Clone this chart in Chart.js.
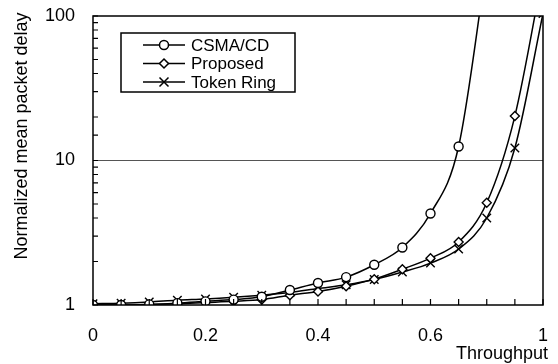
<!DOCTYPE html>
<html>
<head>
<meta charset="utf-8">
<script src="https://cdn.jsdelivr.net/npm/chart.js@4/dist/chart.umd.min.js"></script>
<style>
  html, body { margin: 0; padding: 0; background: #fff; }
  #wrap { width: 558px; height: 364px; }
</style>
</head>
<body>
<div id="wrap"><canvas id="delay-chart" width="558" height="364"></canvas></div>
<script>
// throughput steps (x) and normalized delay per protocol (y, log scale)
const throughput = [0, 0.05, 0.1, 0.15, 0.2, 0.25, 0.3, 0.35, 0.4, 0.45, 0.5, 0.55, 0.6, 0.65, 0.7, 0.75, 0.8];
const csmaDelay = [1.0, 1.0, 1.01, 1.03, 1.06, 1.09, 1.14, 1.27, 1.42, 1.56, 1.9, 2.5, 4.3, 12.5, 230];
const proposedDelay = [1.0, 1.0, 1.01, 1.02, 1.04, 1.06, 1.09, 1.17, 1.24, 1.35, 1.51, 1.77, 2.11, 2.73, 5.1, 20.3, 200];
const tokenDelay = [1.02, 1.03, 1.05, 1.08, 1.1, 1.13, 1.17, 1.22, 1.3, 1.38, 1.5, 1.69, 1.95, 2.44, 4.0, 12.2, 104];

const seriesNames = ['CSMA/CD', 'Proposed', 'Token Ring'];
const xTickLabels = ['0', '0.2', '0.4', '0.6', '1'];
const yTickValues = [1, 10, 100];

const FONT = "'Liberation Sans', Arial, sans-serif";

function toPoints(ys) {
    return ys.map((y, i) => ({ x: throughput[i], y: y }));
}

function drawMarker(ctx, style, r, x, y) {
    ctx.beginPath();
    if (style === 'circle') {
        ctx.arc(x, y, r, 0, Math.PI * 2);
        ctx.fill();
        ctx.stroke();
    } else if (style === 'rectRot') {
        ctx.moveTo(x, y - r);
        ctx.lineTo(x + r, y);
        ctx.lineTo(x, y + r);
        ctx.lineTo(x - r, y);
        ctx.closePath();
        ctx.fill();
        ctx.stroke();
    } else {
        const d = r * 0.75;
        ctx.moveTo(x - d, y - d);
        ctx.lineTo(x + d, y + d);
        ctx.moveTo(x + d, y - d);
        ctx.lineTo(x - d, y + d);
        ctx.stroke();
    }
}

// box, inward minor ticks, legend and axis titles
const decorations = {
    id: 'decorations',
    afterDatasetsDraw(chart) {
        const ctx = chart.ctx;
        const area = chart.chartArea;
        const xs = chart.scales.x;
        const ys = chart.scales.y;
        ctx.save();
        ctx.strokeStyle = '#000';
        ctx.lineWidth = 1.5;
        ctx.strokeRect(area.left, area.top, area.right - area.left, area.bottom - area.top);

        ctx.lineWidth = 1.2;
        ctx.beginPath();
        ys.ticks.forEach(t => {
            const py = ys.getPixelForValue(t.value);
            ctx.moveTo(area.left, py);
            ctx.lineTo(area.left + 5, py);
        });
        xs.ticks.forEach(t => {
            const px = xs.getPixelForValue(t.value);
            ctx.moveTo(px, area.bottom);
            ctx.lineTo(px, area.bottom - 6);
        });
        ctx.stroke();

        // legend
        const lx = area.left + 28, ly = area.top + 17, lw = 174, lh = 59;
        ctx.fillStyle = '#fff';
        ctx.fillRect(lx, ly, lw, lh);
        ctx.lineWidth = 1.5;
        ctx.strokeRect(lx, ly, lw, lh);
        chart.data.datasets.forEach((ds, i) => {
            const ry = ly + 12 + i * 18.5;
            ctx.strokeStyle = '#000';
            ctx.lineWidth = 1.5;
            ctx.beginPath();
            ctx.moveTo(lx + 22, ry);
            ctx.lineTo(lx + 64, ry);
            ctx.stroke();
            ctx.fillStyle = '#fff';
            drawMarker(ctx, ds.pointStyle, ds.pointRadius, lx + 43, ry);
            ctx.fillStyle = '#000';
            ctx.font = '17px ' + FONT;
            ctx.textAlign = 'left';
            ctx.textBaseline = 'middle';
            ctx.fillText(ds.label, lx + 70, ry + 1);
        });

        // axis titles
        ctx.fillStyle = '#000';
        ctx.font = '18px ' + FONT;
        ctx.textAlign = 'right';
        ctx.textBaseline = 'middle';
        ctx.fillText('Throughput', area.right + 5, 354);
        ctx.translate(22, 136);
        ctx.rotate(-Math.PI / 2);
        ctx.textAlign = 'center';
        ctx.fillText('Normalized mean packet delay', 0, 0);
        ctx.restore();
    }
};

const pointStyles = ['circle', 'rectRot', 'crossRot'];
const pointSizes = [4.5, 4.5, 6];
const allSeries = [csmaDelay, proposedDelay, tokenDelay];
const clear = 'rgba(0,0,0,0)';

new Chart(document.getElementById('delay-chart'), {
    type: 'line',
    data: {
        datasets: allSeries.map((s, i) => ({
            label: seriesNames[i],
            data: toPoints(s),
            borderColor: '#000',
            borderWidth: 1.5,
            backgroundColor: '#fff',
            pointBackgroundColor: '#fff',
            pointBorderColor: '#000',
            pointBorderWidth: 1.4,
            pointStyle: pointStyles[i],
            pointRadius: pointSizes[i],
            cubicInterpolationMode: 'monotone'
        }))
    },
    options: {
        responsive: false,
        animation: false,
        devicePixelRatio: 1,
        layout: { padding: { top: 16, right: 15, bottom: 0, left: 0 } },
        plugins: {
            legend: { display: false },
            tooltip: { enabled: false }
        },
        scales: {
            x: {
                type: 'linear',
                min: 0,
                max: 0.8,
                border: { display: false },
                // invisible tick marks give the label gap without padding the chart area
                grid: { color: clear, tickColor: clear, drawTicks: true, tickLength: 20 },
                ticks: {
                    stepSize: 0.05,
                    autoSkip: false,
                    maxRotation: 0,
                    padding: 0,
                    color: '#000',
                    font: { family: FONT, size: 18 },
                    callback: (v, i) => (i % 4 === 0 ? xTickLabels[i / 4] : '')
                },
                afterFit: scale => { scale.height = 59; }
            },
            y: {
                type: 'logarithmic',
                min: 1,
                max: 100,
                border: { display: false },
                grid: {
                    drawTicks: true,
                    tickLength: 18,
                    tickColor: clear,
                    lineWidth: 1,
                    color: c => (c.tick && c.tick.value === 10 ? '#555' : clear)
                },
                ticks: {
                    autoSkip: false,
                    padding: 0,
                    color: '#000',
                    font: { family: FONT, size: 18 },
                    callback: v => (yTickValues.includes(v) ? String(v) : '')
                },
                afterFit: scale => { scale.width = 93; }
            }
        }
    },
    plugins: [decorations]
});
</script>
</body>
</html>
